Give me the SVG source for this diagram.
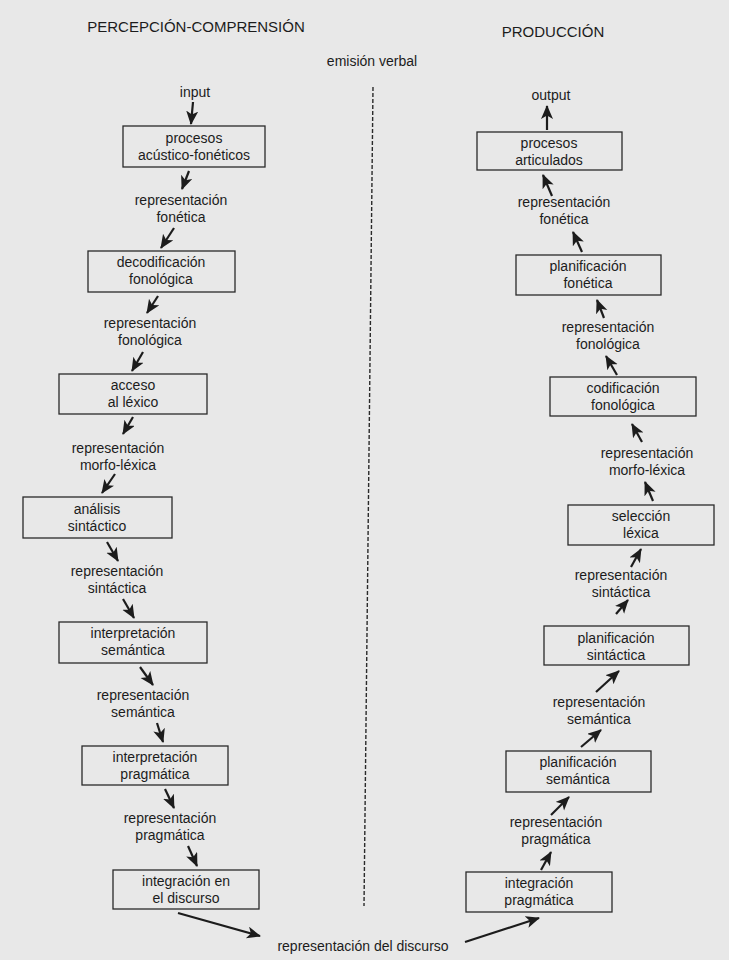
<svg xmlns="http://www.w3.org/2000/svg" width="729" height="960" viewBox="0 0 729 960">
<defs>
<style>
text{font-family:"Liberation Sans",Arial,sans-serif;font-size:14px;fill:#1c1c1c;text-anchor:middle}
.title{font-size:15px}
.box{fill:none;stroke:#2a2a2a;stroke-width:1.3}
.arr{stroke:#1c1c1c;stroke-width:2.2;fill:none;marker-end:url(#ah)}
.dash{stroke:#2a2a2a;stroke-width:1.4;stroke-dasharray:4 2;fill:none}
</style>
<marker id="ah" markerUnits="userSpaceOnUse" markerWidth="16" markerHeight="14" refX="13" refY="6" orient="auto">
<path d="M0,0 L14,6 L0,12 L3.5,6 Z" fill="#1c1c1c"/>
</marker>
</defs>
<rect width="729" height="960" fill="#e8e8e8"/>

<g id="titles">
<text class="title" x="196" y="32">PERCEPCIÓN-COMPRENSIÓN</text>
<text class="title" x="553" y="37">PRODUCCIÓN</text>
<text x="372" y="66">emisión verbal</text>
</g>

<!-- left column -->
<g id="input"><text x="195" y="97">input</text></g>
<g id="n-acustico"><rect class="box" x="123" y="126" width="142" height="41"/><text x="194" y="143">procesos</text><text x="194" y="160">acústico-fonéticos</text></g>
<g id="l-fonetica"><text x="181" y="205">representación</text><text x="181" y="222">fonética</text></g>
<g id="n-decodificacion"><rect class="box" x="88" y="251" width="147" height="41"/><text x="161" y="267">decodificación</text><text x="161" y="284">fonológica</text></g>
<g id="l-fonologica"><text x="150" y="328">representación</text><text x="150" y="345">fonológica</text></g>
<g id="n-acceso"><rect class="box" x="59" y="374" width="148" height="40"/><text x="133" y="390">acceso</text><text x="133" y="407">al léxico</text></g>
<g id="l-morfo"><text x="118" y="453">representación</text><text x="118" y="470">morfo-léxica</text></g>
<g id="n-analisis"><rect class="box" x="23" y="497" width="149" height="41"/><text x="97" y="514">análisis</text><text x="97" y="531">sintáctico</text></g>
<g id="l-sintactica"><text x="117" y="576">representación</text><text x="117" y="593">sintáctica</text></g>
<g id="n-interp-sem"><rect class="box" x="59" y="622" width="148" height="41"/><text x="133" y="638">interpretación</text><text x="133" y="655">semántica</text></g>
<g id="l-semantica"><text x="143" y="700">representación</text><text x="143" y="717">semántica</text></g>
<g id="n-interp-prag"><rect class="box" x="82" y="746" width="146" height="39"/><text x="155" y="762">interpretación</text><text x="155" y="779">pragmática</text></g>
<g id="l-pragmatica"><text x="170" y="823">representación</text><text x="170" y="840">pragmática</text></g>
<g id="n-integ-disc"><rect class="box" x="113" y="870" width="146" height="39"/><text x="186" y="886">integración en</text><text x="186" y="903">el discurso</text></g>
<g id="l-discurso"><text x="363" y="951">representación del discurso</text></g>

<!-- right column -->
<g id="output"><text x="551" y="100">output</text></g>
<g id="n-articulados"><rect class="box" x="477" y="132" width="145" height="38"/><text x="549" y="148">procesos</text><text x="549" y="165">articulados</text></g>
<g id="r-fonetica"><text x="564" y="207">representación</text><text x="564" y="224">fonética</text></g>
<g id="n-plan-fon"><rect class="box" x="516" y="255" width="145" height="40"/><text x="588" y="271">planificación</text><text x="588" y="288">fonética</text></g>
<g id="r-fonologica"><text x="608" y="332">representación</text><text x="608" y="349">fonológica</text></g>
<g id="n-codif"><rect class="box" x="550" y="377" width="146" height="39"/><text x="623" y="393">codificación</text><text x="623" y="410">fonológica</text></g>
<g id="r-morfo"><text x="647" y="458">representación</text><text x="647" y="475">morfo-léxica</text></g>
<g id="n-seleccion"><rect class="box" x="568" y="505" width="146" height="40"/><text x="641" y="521">selección</text><text x="641" y="538">léxica</text></g>
<g id="r-sintactica"><text x="621" y="580">representación</text><text x="621" y="597">sintáctica</text></g>
<g id="n-plan-sin"><rect class="box" x="544" y="626" width="145" height="39"/><text x="616" y="643">planificación</text><text x="616" y="660">sintáctica</text></g>
<g id="r-semantica"><text x="599" y="707">representación</text><text x="599" y="724">semántica</text></g>
<g id="n-plan-sem"><rect class="box" x="506" y="751" width="145" height="41"/><text x="578" y="767">planificación</text><text x="578" y="784">semántica</text></g>
<g id="r-pragmatica"><text x="556" y="827">representación</text><text x="556" y="844">pragmática</text></g>
<g id="n-integ-prag"><rect class="box" x="466" y="872" width="146" height="40"/><text x="539" y="888">integración</text><text x="539" y="905">pragmática</text></g>

<g id="connectors">
<path class="dash" d="M373,87 L364,906"/>
<path class="arr" d="M193,102 L191,124"/>
<path class="arr" d="M189,171 L182,189"/>
<path class="arr" d="M174,228 L161,248"/>
<path class="arr" d="M158,296 L147,313"/>
<path class="arr" d="M143,352 L132,371"/>
<path class="arr" d="M133,417 L123,434"/>
<path class="arr" d="M115,474 L102,493"/>
<path class="arr" d="M107,542 L118,561"/>
<path class="arr" d="M123,599 L134,618"/>
<path class="arr" d="M140,667 L153,685"/>
<path class="arr" d="M157,723 L163,742"/>
<path class="arr" d="M165,789 L174,808"/>
<path class="arr" d="M188,846 L197,866"/>
<path class="arr" d="M178,913 L260,936"/>
<path class="arr" d="M465,942 L539,918"/>
<path class="arr" d="M547,130 L547,106"/>
<path class="arr" d="M552,196 L543,175"/>
<path class="arr" d="M582,252 L573,232"/>
<path class="arr" d="M604,318 L597,300"/>
<path class="arr" d="M617,375 L606,356"/>
<path class="arr" d="M642,442 L632,424"/>
<path class="arr" d="M653,501 L645,482"/>
<path class="arr" d="M631,567 L641,549"/>
<path class="arr" d="M616,614 L628,600"/>
<path class="arr" d="M596,692 L619,671"/>
<path class="arr" d="M581,747 L601,730"/>
<path class="arr" d="M551,815 L569,797"/>
<path class="arr" d="M541,870 L551,852"/>
</g>
</svg>
